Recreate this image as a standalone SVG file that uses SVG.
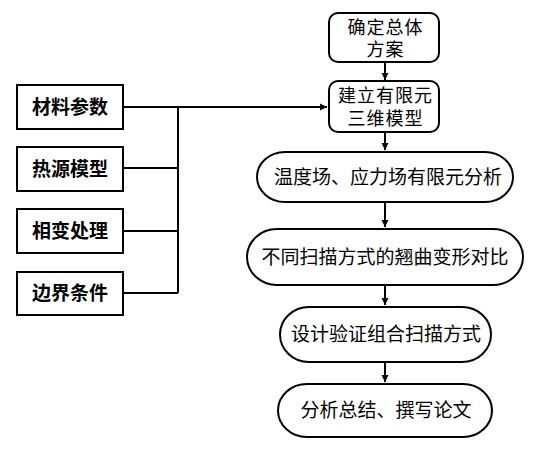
<svg xmlns="http://www.w3.org/2000/svg" width="548" height="451" viewBox="0 0 548 451">
<defs>
<marker id="ah" markerWidth="8" markerHeight="8" refX="7" refY="4" orient="auto" markerUnits="userSpaceOnUse">
<path d="M0,0.5 L7,4 L0,7.5 Z" fill="#000"/>
</marker>
<style>
.box{fill:#fff;stroke:#000;stroke-width:2}
.t{font-family:"Noto Sans CJK SC","Liberation Sans",sans-serif;font-size:19px;fill:#000;text-anchor:middle}
.t2{font-family:"Noto Sans CJK SC","Liberation Sans",sans-serif;font-size:18px;letter-spacing:1px;fill:#000;text-anchor:middle}
.b{font-family:"Noto Sans CJK SC","Liberation Sans",sans-serif;font-size:19px;font-weight:bold;fill:#000;text-anchor:middle}
.c{fill:none;stroke:#000;stroke-width:2}
</style>
</defs>
<rect width="548" height="451" fill="#fff"/>
<g id="connectors">
<path class="c" d="M123,107 H178 M123,168 H178 M123,231 H178 M123,293 H178 M178,107 V293"/>
<path class="c" d="M178,107 H327" marker-end="url(#ah)"/>
<path class="c" d="M385,62 V80" marker-end="url(#ah)"/>
<path class="c" d="M385,132 V150" marker-end="url(#ah)"/>
<path class="c" d="M385,202 V227" marker-end="url(#ah)"/>
<path class="c" d="M385,285 V305" marker-end="url(#ah)"/>
<path class="c" d="M385,362 V382" marker-end="url(#ah)"/>
</g>
<g id="n1">
<rect class="box" x="329" y="13" width="110" height="49" rx="9"/>
<text class="t2" x="385.5" y="34">确定总体</text>
<text class="t2" x="385.5" y="56">方案</text>
</g>
<g id="n2">
<rect class="box" x="329" y="81" width="110" height="51" rx="9"/>
<text class="t2" x="385.5" y="102">建立有限元</text>
<text class="t2" x="385.5" y="125">三维模型</text>
</g>
<g id="m1">
<rect class="box" x="17" y="85" width="106" height="44"/>
<text class="b" x="70" y="114">材料参数</text>
</g>
<g id="m2">
<rect class="box" x="17" y="147" width="106" height="44"/>
<text class="b" x="70" y="176">热源模型</text>
</g>
<g id="m3">
<rect class="box" x="17" y="209" width="106" height="44"/>
<text class="b" x="70" y="238">相变处理</text>
</g>
<g id="m4">
<rect class="box" x="17" y="272" width="106" height="43"/>
<text class="b" x="70" y="300">边界条件</text>
</g>
<g id="s1">
<rect class="box" x="257" y="152" width="256" height="50" rx="28" ry="25"/>
<text class="t" x="388" y="184">温度场、应力场有限元分析</text>
</g>
<g id="s2">
<rect class="box" x="247" y="229" width="276" height="56" rx="30" ry="28"/>
<text class="t" x="385" y="264">不同扫描方式的翘曲变形对比</text>
</g>
<g id="s3">
<rect class="box" x="280" y="307" width="211" height="55" rx="29" ry="27.5"/>
<text class="t" x="386" y="341">设计验证组合扫描方式</text>
</g>
<g id="s4">
<rect class="box" x="278" y="384" width="214" height="53" rx="29" ry="26.5"/>
<text class="t" x="386" y="417">分析总结、撰写论文</text>
</g>
</svg>
